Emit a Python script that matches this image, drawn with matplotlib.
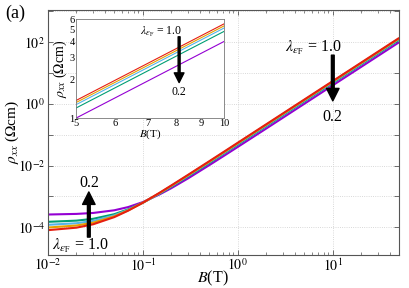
import matplotlib
matplotlib.use("Agg")
import matplotlib.pyplot as plt
import numpy as np
from matplotlib.ticker import FixedLocator, FuncFormatter, NullLocator, LogLocator, NullFormatter

plt.rcParams["font.family"] = "serif"
plt.rcParams["font.serif"] = ["Liberation Serif", "DejaVu Serif"]
plt.rcParams["mathtext.fontset"] = "stix"

# magnetic field (T)
B = [0.01, 0.02, 0.03, 0.05, 0.07, 0.1, 0.15, 0.2, 0.3, 0.5, 0.7, 1, 2, 5, 10, 20, 50]

# rho_xx (Ohm cm) for lambda_eF = 1.0, 0.8, 0.6, 0.4, 0.2
rho_10 = [8.05e-5, 9.7e-5, 1.25e-4, 2.13e-4, 3.45e-4, 6.25e-4, 1.31e-3, 2.28e-3, 5.03e-3,
          1.38e-2, 2.70e-2, 5.51e-2, 0.22, 1.375, 5.5, 22.0, 137.5]
rho_08 = [9.8e-5, 1.14e-4, 1.41e-4, 2.26e-4, 3.53e-4, 6.23e-4, 1.29e-3, 2.21e-3, 4.86e-3,
          1.33e-2, 2.60e-2, 5.31e-2, 0.212, 1.325, 5.3, 21.2, 132.5]
rho_06 = [1.20e-4, 1.35e-4, 1.61e-4, 2.43e-4, 3.65e-4, 6.25e-4, 1.26e-3, 2.16e-3, 4.71e-3,
          1.29e-2, 2.50e-2, 5.11e-2, 0.204, 1.275, 5.1, 20.4, 127.5]
rho_04 = [1.50e-4, 1.64e-4, 1.88e-4, 2.65e-4, 3.80e-4, 6.25e-4, 1.23e-3, 2.07e-3, 4.47e-3,
          1.21e-2, 2.37e-2, 4.81e-2, 0.192, 1.2, 4.8, 19.2, 120.0]
rho_02 = [2.59e-4, 2.71e-4, 2.91e-4, 3.55e-4, 4.51e-4, 6.55e-4, 1.16e-3, 1.86e-3, 3.86e-3,
          1.03e-2, 1.99e-2, 4.03e-2, 0.160, 1.0, 4.0, 16.0, 100.0]

series = [rho_02, rho_04, rho_06, rho_08, rho_10]
colors = ["#9400d3", "#009e73", "#56b4e9", "#e69f00", "#e51e10"]

fig = plt.figure(figsize=(4.09, 2.88), dpi=100)
ax = fig.add_axes([0.117, 0.116, 0.859, 0.849])

for rho, col in zip(series, colors):
    ax.plot(B, rho, color=col, lw=1.5, solid_capstyle="butt")

ax.set_xscale("log")
ax.set_yscale("log")
ax.set_xlim(0.01, 50)
ax.set_ylim(1.3e-5, 1.1e3)

ax.yaxis.set_major_locator(FixedLocator([10.0 ** k for k in range(-4, 4)]))
ax.yaxis.set_major_formatter(FuncFormatter(
    lambda v, p: r"$10^{%d}$" % round(np.log10(v)) if round(np.log10(v)) % 2 == 0 else ""))
ax.yaxis.set_minor_locator(NullLocator())
ax.xaxis.set_major_locator(FixedLocator([0.01, 0.1, 1, 10]))
ax.xaxis.set_major_formatter(FuncFormatter(lambda v, p: r"$10^{%d}$" % round(np.log10(v))))
ax.xaxis.set_minor_locator(LogLocator(base=10, subs=np.arange(2, 10)))
ax.xaxis.set_minor_formatter(NullFormatter())

ax.tick_params(which="both", direction="in", top=True, right=True, colors="#555555",
               labelcolor="black", labelsize=10, pad=2)
ax.tick_params(which="major", length=3.5, width=0.6)
ax.tick_params(which="minor", length=2, width=0.5)
for s in ax.spines.values():
    s.set_color("#555555")
    s.set_linewidth(0.8)
ax.grid(True, which="major", linestyle=":", color="#cccccc", linewidth=0.6)

ax.set_xlabel(r"$B$(T)", fontsize=11.5)
ax.xaxis.set_label_coords(0.47, -0.058)
ax.set_ylabel(r"$\rho_{xx}$ ($\Omega$cm)", fontsize=11)
ax.yaxis.set_label_coords(-0.076, 0.5)
fig.text(0.012, 0.955, "(a)", fontsize=13, va="center", ha="left")

# annotations, main panel
ax.text(6.2, 64, r"$\lambda_{\varepsilon_{\rm F}}$ = 1.0", fontsize=11.5, ha="center", va="center")
ax.annotate("", xy=(10, 1.25), xytext=(10, 38),
            arrowprops=dict(facecolor="black", edgecolor="black", width=2.0, headwidth=9, headlength=9))
ax.text(10, 0.38, "0.2", fontsize=11.5, ha="center", va="center")

ax.text(0.022, 2.6e-5, r"$\lambda_{\varepsilon_{\rm F}}$ = 1.0", fontsize=11.5, ha="center", va="center")
ax.annotate("", xy=(0.027, 1.4e-3), xytext=(0.027, 4.8e-5),
            arrowprops=dict(facecolor="black", edgecolor="black", width=2.0, headwidth=9, headlength=9))
ax.text(0.027, 2.8e-3, "0.2", fontsize=11.5, ha="center", va="center")

# inset
ins = fig.add_axes([0.186, 0.590, 0.362, 0.344])
for rho, col in zip(series, colors):
    ins.plot(B, rho, color=col, lw=0.8)
ins.set_xscale("log")
ins.set_yscale("log")
ins.set_xlim(5, 10)
ins.set_ylim(1, 6)
ins.xaxis.set_major_locator(FixedLocator([5, 6, 7, 8, 9, 10]))
ins.xaxis.set_major_formatter(FuncFormatter(lambda v, p: "%d" % round(v)))
ins.xaxis.set_minor_locator(NullLocator())
ins.yaxis.set_major_locator(FixedLocator([1, 2, 3, 4, 5, 6]))
ins.yaxis.set_major_formatter(FuncFormatter(lambda v, p: "%d" % round(v)))
ins.yaxis.set_minor_locator(NullLocator())
ins.tick_params(which="both", direction="in", length=0, labelsize=7.5, pad=1)
for s in ins.spines.values():
    s.set_color("#777777")
    s.set_linewidth(0.6)
ins.set_xlabel(r"$B$(T)", fontsize=8, labelpad=-1)
ins.set_ylabel(r"$\rho_{xx}$ ($\Omega$cm)", fontsize=10, labelpad=0)

ins.text(7.45, 4.75, r"$\lambda_{\varepsilon_{\rm F}}$ = 1.0", fontsize=8.5, ha="center", va="center")
ins.annotate("", xy=(8.1, 1.9), xytext=(8.1, 4.35),
             arrowprops=dict(facecolor="black", edgecolor="black", width=1.4, headwidth=7, headlength=7))
ins.text(8.1, 1.6, "0.2", fontsize=8.5, ha="center", va="center")

fig.savefig("out.png", dpi=100)
